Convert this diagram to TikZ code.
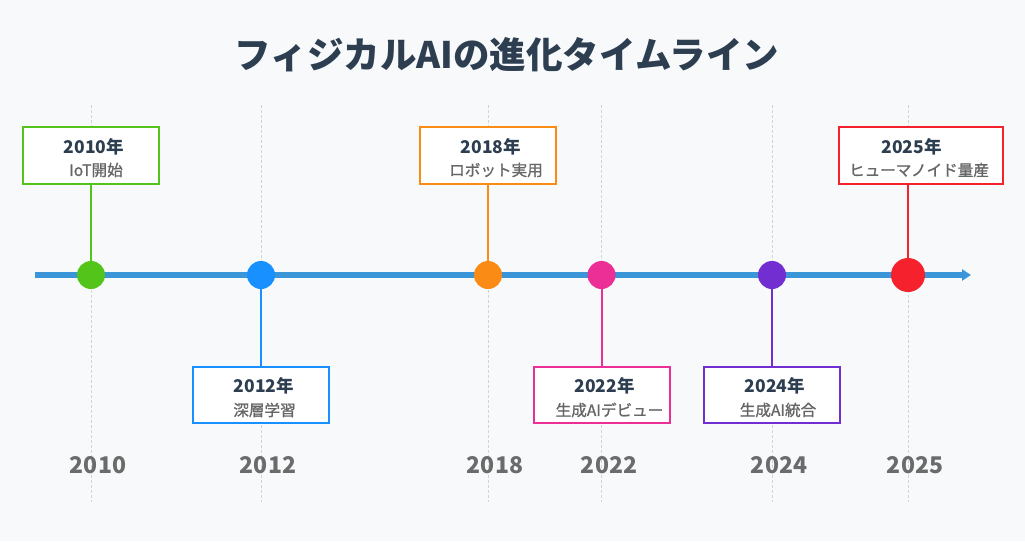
\documentclass[tikz,border=0pt]{standalone}
\usepackage{fontspec}
\setmainfont{Noto Sans CJK JP}
\newfontfamily\descfont{Noto Sans CJK JP}[FakeBold=1.1]
\usetikzlibrary{arrows.meta}

\definecolor{bgcol}{HTML}{F7F9FB}
\definecolor{titlecol}{HTML}{2C3E50}
\definecolor{axiscol}{HTML}{3A96D8}
\definecolor{gridcol}{HTML}{D0D4D9}
\definecolor{desccol}{HTML}{666666}
\definecolor{yearcol}{HTML}{6B6B6B}
\definecolor{ciot}{HTML}{52C41A}
\definecolor{cdeep}{HTML}{1890FF}
\definecolor{crobot}{HTML}{FA8C16}
\definecolor{cgen}{HTML}{EB2F96}
\definecolor{cint}{HTML}{722ED1}
\definecolor{chuman}{HTML}{F5222D}

\begin{document}
\begin{tikzpicture}[
    x=1pt, y=-1pt,
    text centered,
	event/.style={
	  rectangle,
	  minimum width=136pt,
	  minimum height=57pt,
	  inner sep=0pt,
	  line width=2pt,
	  fill=white
	},
	yeartext/.style={
	  inner sep=0pt,
	  text=titlecol,
	  font=\fontsize{17.5}{20}\selectfont\bfseries
	},
	desctext/.style={
	  inner sep=0pt,
	  text=desccol,
	  font=\fontsize{15.6}{20}\selectfont\descfont
	},
	dot/.style={
	  circle,
	  inner sep=0pt,
	  minimum size=28pt
	},
	yearlabel/.style={
	  text=yearcol,
	  font=\fontsize{23}{26}\selectfont\bfseries
	},
	grid/.style={draw=gridcol, line width=0.6pt, dash pattern=on 3pt off 2pt},
	stem/.style={draw, line width=2pt}
	]
	\useasboundingbox[fill=bgcol] (0, 0) rectangle (1025, 541);
	\node at (507, 55) [text=titlecol, font=\fontsize{36.5}{42}\selectfont\bfseries] (title) {フィジカルAIの進化タイムライン};
	% grid lines
	\foreach \gx in {91, 261, 488, 601, 772, 908}
	  \path[grid] (\gx, 105) -- (\gx, 502);
	% axis
	\coordinate (axisstart) at (35, 275);
	\coordinate (axisend) at (971, 275);
	\path[draw, axiscol, line width=6.5pt, -{Triangle[length=9pt, width=11pt]}] (axisstart) -- (axisend);
	% dots
	\node at (91, 275) [dot] (d2010) {};
	\node at (261, 275) [dot] (d2012) {};
	\node at (488, 275) [dot] (d2018) {};
	\node at (601.5, 275) [dot] (d2022) {};
	\node at (772, 275) [dot] (d2024) {};
	\node at (908, 275) [dot, minimum size=34pt] (d2025) {};
	% event boxes
	\node at (91, 155.5) [event, draw=ciot] (e2010) {};
	\node at (261, 395) [event, draw=cdeep, minimum height=56pt] (e2012) {};
	\node at (488, 155.5) [event, draw=crobot] (e2018) {};
	\node at (601.5, 395) [event, draw=cgen, minimum height=56pt] (e2022) {};
	\node at (772, 395) [event, draw=cint, minimum height=56pt] (e2024) {};
	\node at (921, 155.5) [event, draw=chuman, minimum width=164pt] (e2025) {};
	% stems
	\path[stem, ciot] (d2010.center) -- (d2010 |- e2010.south);
	\path[stem, cdeep] (d2012.center) -- (d2012 |- e2012.north);
	\path[stem, crobot] (d2018.center) -- (d2018 |- e2018.south);
	\path[stem, cgen] (d2022.center) -- (d2022 |- e2022.north);
	\path[stem, cint] (d2024.center) -- (d2024 |- e2024.north);
	\path[stem, chuman] (d2025.center) -- (d2025 |- e2025.south);
	\node at (d2010) [dot, fill=ciot] {};
	\node at (d2012) [dot, fill=cdeep] {};
	\node at (d2018) [dot, fill=crobot] {};
	\node at (d2022) [dot, fill=cgen] {};
	\node at (d2024) [dot, fill=cint] {};
	\node at (d2025) [dot, fill=chuman, minimum size=34pt] {};
	% event texts
	\node at ([xshift=3pt, yshift=8.5pt]d2010 |- e2010.center) [yeartext] (t2010) {2010年};
	\node at ([xshift=5pt, yshift=-14.5pt]d2010 |- e2010.center) [desctext] (s2010) {IoT開始};
	\node at ([xshift=3pt, yshift=9.5pt]d2012 |- e2012.center) [yeartext] (t2012) {2012年};
	\node at ([xshift=3.5pt, yshift=-15pt]d2012 |- e2012.center) [desctext] (s2012) {深層学習};
	\node at ([xshift=3pt, yshift=8.5pt]d2018 |- e2018.center) [yeartext] (t2018) {2018年};
	\node at ([xshift=8pt, yshift=-14.5pt]d2018 |- e2018.center) [desctext] (s2018) {ロボット実用};
	\node at ([xshift=3pt, yshift=9.5pt]d2022 |- e2022.center) [yeartext] (t2022) {2022年};
	\node at ([xshift=8pt, yshift=-15pt]d2022 |- e2022.center) [desctext] (s2022) {生成AIデビュー};
	\node at ([xshift=3pt, yshift=9.5pt]d2024 |- e2024.center) [yeartext] (t2024) {2024年};
	\node at ([xshift=6pt, yshift=-15pt]d2024 |- e2024.center) [desctext] (s2024) {生成AI統合};
	\node at ([xshift=3.5pt, yshift=8.5pt]d2025 |- e2025.center) [yeartext] (t2025) {2025年};
	\node at ([xshift=11pt, yshift=-14.5pt]d2025 |- e2025.center) [desctext] (s2025) {ヒューマノイド量産};
	% year labels
	\node at (98, 465) [yearlabel] (y2010) {2010};
	\node at (268, 465) [yearlabel] (y2012) {2012};
	\node at (495, 465) [yearlabel] (y2018) {2018};
	\node at (609, 465) [yearlabel] (y2022) {2022};
	\node at (779, 465) [yearlabel] (y2024) {2024};
	\node at (915, 465) [yearlabel] (y2025) {2025};
  \end{tikzpicture}
\end{document}
